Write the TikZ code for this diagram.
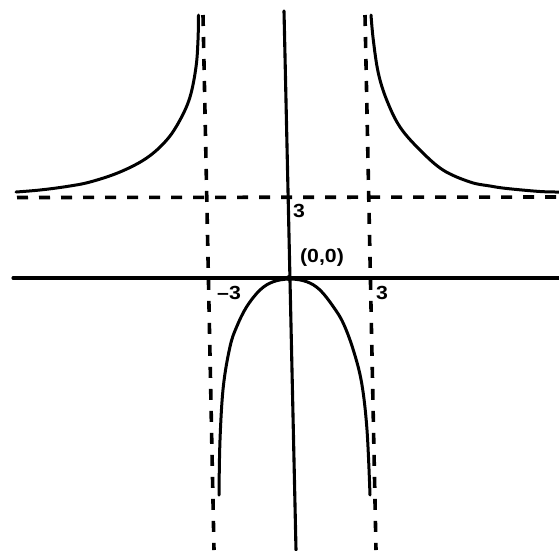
\documentclass[tikz,border=0pt]{standalone}
\usepackage{fontspec}
\setmainfont{Liberation Sans}
\begin{document}
\begin{tikzpicture}[x=1pt,y=-1pt,
  solidline/.style={line width=3.1pt,line cap=round},
  dashline/.style={line width=3.6pt,dash pattern=on 11pt off 11pt},
  curve/.style={line width=3pt,line cap=round,line join=round},
  lbl/.style={font=\fontsize{19}{19}\selectfont\bfseries,inner sep=0pt}]
\useasboundingbox (0,0) rectangle (559,550);
% axes
\coordinate (ytop) at (284,11);
\coordinate (ybot) at (296,550);
\coordinate (xl) at (13,278);
\coordinate (xr) at (559,278);
\draw[solidline] (xl) -- (xr);
\draw[solidline] (ytop) -- (ybot);
% asymptotes
\coordinate (hl) at (17,197.5);
\coordinate (hr) at (559,197);
\coordinate (vlt) at (203,15);
\coordinate (vlb) at (214,550);
\coordinate (vrt) at (365,15);
\coordinate (vrb) at (376,550);
\draw[dashline] (hl) -- (hr);
\draw[dashline] (vlt) -- (vlb);
\draw[dashline] (vrt) -- (vrb);
% branches
\draw[curve] plot[smooth,tension=0.6] coordinates {(16,192) (40,190) (66.7,186.5) (90,182) (120,172) (146.7,158) (166.7,140) (180,120) (190,97) (196,67) (198,40) (198.5,15)};
\draw[curve] plot[smooth,tension=0.6] coordinates {(371,15) (373.3,40) (378.3,73) (386.7,100) (400,127) (420,150) (443,170) (470,182) (490,186) (507,188.5) (540,191.5) (559,192)};
\draw[curve] plot[smooth,tension=0.6] coordinates {(219,495) (220,440) (223.3,386.7) (230,346.7) (236.7,326.7) (246.7,306.7) (260,290) (273.3,281.7) (290,279) (306.7,281.7) (320,290) (333.3,306.7) (343.3,323.3) (353.3,350) (361.7,383.3) (367,430) (370,495)};
% origin dot
\node[circle,fill,inner sep=0pt,minimum size=6pt] (o) at (289,278) {};
% labels
\node[lbl,xscale=1.12] (l3) at (299,211) {3};
\node[lbl,xscale=1.12] (l00) at (322,258) {(0,0)};
\node[lbl,xscale=1.12] (lm3) at (229,293) {\textendash3};
\node[lbl,xscale=1.12] (lp3) at (382,293) {3};
\end{tikzpicture}
\end{document}
